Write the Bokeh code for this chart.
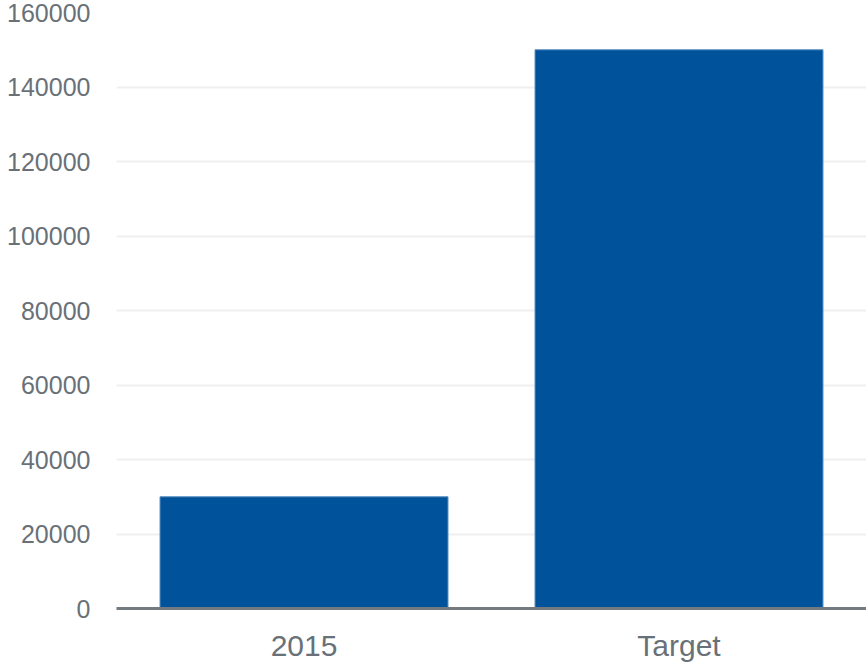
from bokeh.plotting import figure
from bokeh.models import Range1d, FactorRange, NumeralTickFormatter
from bokeh.embed import file_html
from bokeh.resources import INLINE

# Data
categories = ["2015", "Target"]
values = [30000, 150000]
y_ticks = [0, 20000, 40000, 60000, 80000, 100000, 120000, 140000, 160000]

p = figure(
    frame_width=750, frame_height=596,
    x_range=FactorRange(*categories, range_padding=0),
    y_range=Range1d(0, 160000),
    output_backend="svg", toolbar_location=None,
    min_border_left=116, min_border_right=0,
    min_border_top=12, min_border_bottom=0,
)
p.outline_line_color = None
p.background_fill_color = "white"
p.border_fill_color = "white"

p.vbar(x=categories, top=values, width=0.768,
       fill_color="#00539a", line_color="#5d92c4", line_width=1)

# y axis: labels only
p.yaxis.ticker = y_ticks
p.yaxis.formatter = NumeralTickFormatter(format="0")
p.yaxis.axis_line_color = None
p.yaxis.major_tick_line_color = None
p.yaxis.minor_tick_line_color = None
p.yaxis.major_label_text_font = "Liberation Sans"
p.yaxis.major_label_text_font_size = "25px"
p.yaxis.major_label_text_color = "#697178"
p.yaxis.major_label_standoff = 20

# x axis: thick baseline with category labels
p.xaxis.axis_line_color = "#737b80"
p.xaxis.axis_line_width = 3
p.xaxis.major_tick_line_color = None
p.xaxis.minor_tick_line_color = None
p.xaxis.major_label_text_font = "Liberation Sans"
p.xaxis.major_label_text_font_size = "30px"
p.xaxis.major_label_text_color = "#697178"
p.xaxis.major_label_standoff = 14

p.xgrid.grid_line_color = None
p.ygrid.grid_line_color = "#efefef"
p.ygrid.grid_line_width = 2

open("out.html", "w").write(file_html(p, INLINE))
